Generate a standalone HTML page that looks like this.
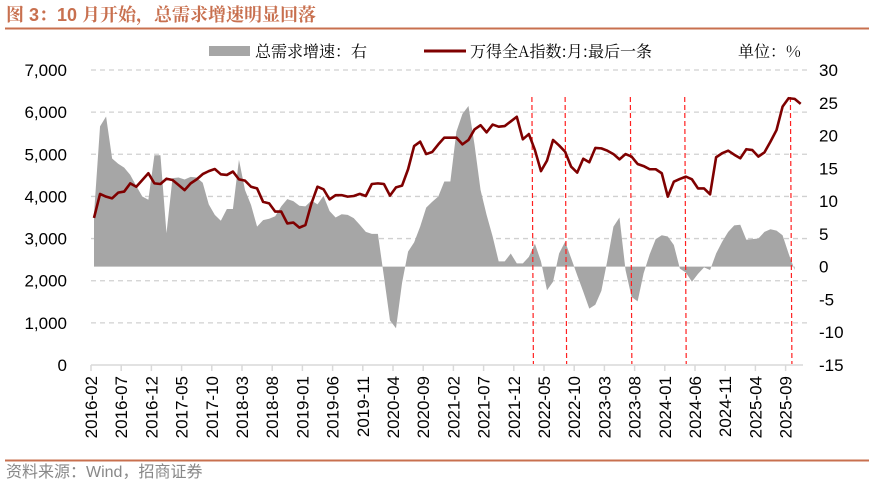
<!DOCTYPE html>
<html><head><meta charset="utf-8"><style>
html,body{margin:0;padding:0;background:#fff;}
body{width:869px;height:487px;overflow:hidden;font-family:"Liberation Sans","Noto Sans CJK SC",sans-serif;}
</style></head><body>
<svg id="chart" width="869" height="487" xmlns="http://www.w3.org/2000/svg" font-family="Liberation Sans, Noto Sans CJK SC, sans-serif">
<text x="6" y="21" font-size="18" font-weight="bold" fill="#c8704f" font-family="Liberation Sans, Noto Serif CJK SC, serif">图 3：10 月开始，总需求增速明显回落</text>
<line x1="5" y1="28.5" x2="869" y2="28.5" stroke="#c8704f" stroke-width="2"/>
<g>
<rect x="209" y="46" width="41" height="10" fill="#a6a6a6"/>
<text x="255" y="57" font-size="16" font-family="Noto Serif CJK SC, serif">总需求增速：右</text>
<line x1="424" y1="51" x2="466" y2="51" stroke="#7f0000" stroke-width="3"/>
<text x="470" y="57" font-size="16" font-family="Noto Serif CJK SC, serif">万得全A指数:月:最后一条</text>
<text x="738" y="57" font-size="16" font-family="Noto Serif CJK SC, serif">单位：%</text>
</g>
<g id="grid"></g><g id="area"></g><g id="events"></g><g id="line"></g><g id="axes"></g>
<line x1="5" y1="460.5" x2="869" y2="460.5" stroke="#c8704f" stroke-width="2"/>
<text x="6" y="477" font-size="16" fill="#888">资料来源：Wind，招商证券</text>
</svg>
<script>
const startYear = 2016, startMonth = 2;
const indexValues = [3490,4058,3995,3955,4090,4115,4310,4230,4390,4550,4310,4295,4420,4390,4270,4150,4310,4405,4530,4600,4650,4525,4510,4590,4405,4375,4230,4190,3870,3835,3640,3640,3360,3380,3260,3320,3835,4230,4170,3930,4030,4030,3995,4010,4060,4010,4295,4310,4295,4020,4215,4255,4645,5195,5300,5005,5055,5235,5395,5395,5395,5235,5340,5590,5690,5520,5705,5655,5670,5780,5890,5355,5480,5100,4600,4850,5340,5210,5060,4705,4565,4895,4810,5150,5140,5085,5005,4880,5005,4945,4770,4720,4645,4645,4550,3995,4350,4415,4470,4405,4190,4190,4050,4930,5025,5085,4990,4905,5120,5100,4945,5045,5300,5575,6130,6330,6315,6195];
const demandValues = [8,21.4,22.9,16.5,15.7,15.1,14.0,12.3,10.7,10.2,17.0,17.0,5.1,13.5,13.6,13.3,13.7,13.6,12.8,9.5,7.9,7.0,8.8,8.8,16.3,11.7,9.4,6.1,7.1,7.3,7.7,9.2,10.3,10.0,9.3,9.2,10.1,9.5,10.8,8.5,7.5,8.0,7.9,7.4,6.4,5.3,5.0,5.0,-1.5,-8.2,-9.4,-2.5,2.3,3.7,6.1,9.0,9.9,10.7,13.0,13.0,20.6,23.3,24.5,18.6,11.7,7.9,4.6,0.8,0.8,2.0,0.5,0.5,1.5,3.5,0.8,-3.6,-2.3,2.0,3.8,1.3,-1.3,-3.8,-6.4,-5.8,-3.7,1.0,6.1,7.5,-0.5,-4.6,-5.3,-1.0,1.9,4.2,4.8,4.6,3.3,-0.3,-0.9,-2.3,-1.1,-0.1,-0.5,2.0,3.8,5.3,6.3,6.4,4.1,4.2,4.3,5.3,5.7,5.5,4.8,2.0,-0.5];
const eventMonths = [72.5,78,88.8,97.8,115.3];
const leftTicks = [0,1000,2000,3000,4000,5000,6000,7000];
const rightTicks = [-15,-10,-5,0,5,10,15,20,25,30];
const labelStep = 5;

const NS='http://www.w3.org/2000/svg';
const x = i => 94 + 6.04*i;
const yL = v => 365 - v*(295/7000);
const yR = v => 365 - (v+15)*(295/45);
function mk(tag, attrs, parent){const e=document.createElementNS(NS,tag);for(const k in attrs)e.setAttribute(k,attrs[k]);parent.appendChild(e);return e;}
const grid=document.getElementById('grid'), axes=document.getElementById('axes');
leftTicks.forEach(v=>{
  if(v>0){const g=mk('line',{x1:91,x2:808,y1:yL(v),y2:yL(v),stroke:'#d0d0d0','stroke-width':1.3,'stroke-dasharray':'5,4'},grid);
  
  }
  const t=mk('text',{x:67,y:yL(v)+6,'font-size':17,'text-anchor':'end'},axes);t.textContent=v.toLocaleString('en-US');
  
  
});
rightTicks.forEach(v=>{
  const t=mk('text',{x:819,y:yR(v)+6,'font-size':17},axes);t.textContent=v;
  
  
});
const ax=mk('line',{x1:91,x2:803,y1:365,y2:365,stroke:'#d9d9d9','stroke-width':1.5},axes);


for(let i=0;i<indexValues.length;i+=labelStep){
  const tx=x(i)-3;
  const tk=mk('line',{x1:tx,x2:tx,y1:365,y2:371,stroke:'#d9d9d9','stroke-width':1.5},axes);
  
  
  const m=startMonth-1+i, yr=startYear+Math.floor(m/12), mo=(m%12)+1;
  const t=mk('text',{x:0,y:0,'font-size':17,'text-anchor':'end',transform:`translate(${tx+6},376) rotate(-90)`},axes);
  t.textContent=yr+'-'+String(mo).padStart(2,'0');
  
  
}
let d=`M${x(0)},${yR(0)}`;
demandValues.forEach((v,i)=>{d+=` L${x(i)},${yR(v)}`;});
d+=` L${x(demandValues.length-1)},${yR(0)} Z`;
const ar=mk('path',{d:d,fill:'#a6a6a6',stroke:'none'},document.getElementById('area'));


eventMonths.forEach(m=>{
  const l=mk('line',{x1:x(m),x2:x(m)+1.5,y1:97,y2:364,stroke:'#ff2020','stroke-width':1.2,'stroke-dasharray':'5,3'},document.getElementById('events'));
  
  
});
const pts=indexValues.map((v,i)=>x(i)+','+yL(v)).join(' ');
const pl=mk('polyline',{points:pts,fill:'none',stroke:'#7f0000','stroke-width':2.6,'stroke-linejoin':'round'},document.getElementById('line'));


</script>
</body></html>
